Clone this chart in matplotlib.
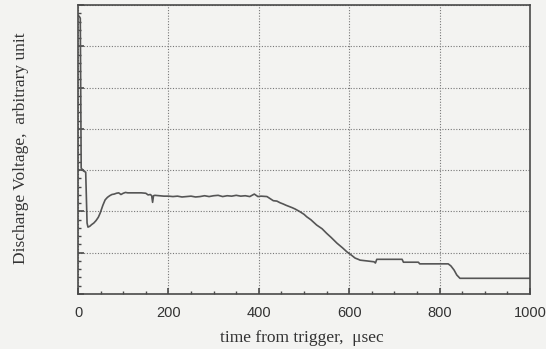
"""Discharge voltage trace versus time from trigger."""

import matplotlib.pyplot as plt
from matplotlib.ticker import MultipleLocator

# trace (time in usec, voltage in arbitrary units)
t_us = [0, 3, 5, 7, 12, 17, 20, 22, 26, 30, 35, 40, 45, 49, 55, 60, 65, 70,
        75, 80, 85, 90, 95, 100, 105, 110, 120, 130, 140, 150, 155, 160, 163,
        165, 167, 170, 180, 190, 200, 210, 220, 230, 240, 250, 260, 270, 280,
        290, 300, 310, 320, 330, 340, 350, 360, 370, 380, 390, 398, 405, 418,
        425, 432, 440, 447, 454, 460, 467, 474, 480, 490, 500, 506, 515, 528,
        540, 550, 560, 573, 585, 595, 605, 613, 620, 624, 640, 655, 658, 661,
        680, 700, 717, 720, 740, 753, 756, 780, 800, 819, 825, 832, 838, 845,
        870, 900, 950, 1000]
volt = [6.75, 6.72, 6.68, 3.05, 2.98, 2.95, 1.72, 1.62, 1.64, 1.68, 1.72, 1.78,
        1.86, 1.96, 2.15, 2.28, 2.34, 2.38, 2.41, 2.42, 2.44, 2.45, 2.41, 2.44,
        2.46, 2.45, 2.45, 2.45, 2.45, 2.44, 2.40, 2.41, 2.38, 2.22, 2.38, 2.39,
        2.38, 2.37, 2.37, 2.36, 2.37, 2.35, 2.36, 2.37, 2.35, 2.36, 2.38,
        2.36, 2.38, 2.39, 2.36, 2.38, 2.37, 2.39, 2.37, 2.38, 2.36, 2.42, 2.36,
        2.37, 2.36, 2.31, 2.26, 2.25, 2.21, 2.18, 2.15, 2.12, 2.09, 2.06, 2.00,
        1.93, 1.87, 1.80, 1.67, 1.58, 1.47, 1.37, 1.23, 1.12, 1.02, 0.94, 0.87,
        0.84, 0.82, 0.80, 0.78, 0.75, 0.84, 0.84, 0.84, 0.84, 0.77, 0.77, 0.77,
        0.73, 0.73, 0.73, 0.73, 0.68, 0.58, 0.46, 0.38, 0.38, 0.38, 0.38, 0.38]

x_ticks = [0, 200, 400, 600, 800, 1000]
x_label = 'time from trigger,  \u03bcsec'
y_label = 'Discharge Voltage,  arbitrary unit'

bg = '#f3f3f1'
ink = '#4a4a4a'

fig = plt.figure(figsize=(5.46, 3.49), dpi=100, facecolor=bg)
ax = fig.add_axes([0.1429, 0.1576, 0.8278, 0.8281], facecolor=bg)

ax.plot(t_us, volt, color='#555555', lw=1.2)

ax.set_xlim(0, 1000)
ax.set_ylim(0, 7)
ax.set_xticks(x_ticks)
ax.xaxis.set_minor_locator(MultipleLocator(50))
ax.yaxis.set_major_locator(MultipleLocator(1))
ax.yaxis.set_minor_locator(MultipleLocator(0.2))
ax.set_yticklabels([])
ax.tick_params(which='both', direction='in', top=False, right=False, color=ink)
ax.tick_params(which='major', length=4, width=1.2)
ax.tick_params(which='minor', length=2.5, width=1.0)
ax.tick_params(axis='x', labelsize=10.5, labelcolor='#333333', pad=9)
for lab in ax.get_xticklabels():
    lab.set_family('Liberation Sans')

ax.grid(True, which='major', color='#777777', ls=(0, (1, 1.5)), lw=0.8)
for s in ax.spines.values():
    s.set_color(ink)
    s.set_linewidth(1.2)

fig.text(0.552, 0.0315, x_label, family='Liberation Serif', fontsize=12.5,
         color='#333333', ha='center', va='center')
fig.text(0.0385, 0.576, y_label, family='Liberation Serif', fontsize=12.5,
         color='#333333', ha='center', va='center', rotation=90)

plt.savefig('out.png', dpi=100, facecolor=bg)
